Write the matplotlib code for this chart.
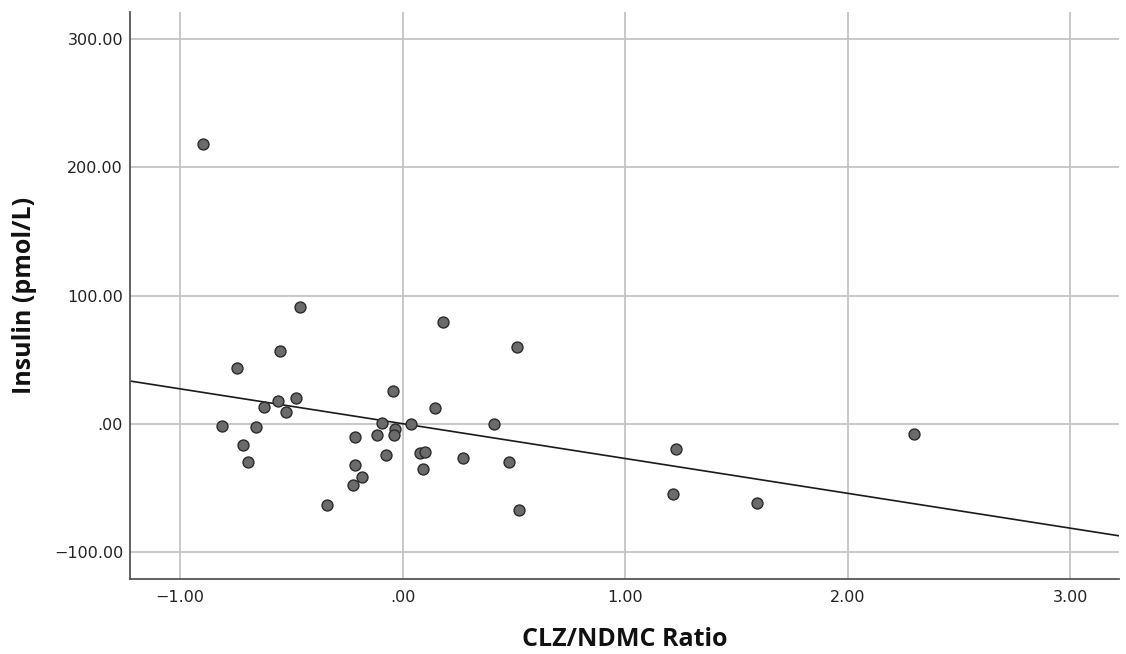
import numpy as np
import matplotlib
matplotlib.use("Agg")
import matplotlib.pyplot as plt
from matplotlib.ticker import FuncFormatter, FixedLocator

# Data
clz_ndmc_ratio = [-0.895, -0.460, -0.552, -0.745, -0.045, -0.480, -0.559, -0.621,
                  -0.523, -0.813, -0.659, -0.094, 0.040, -0.035, -0.039, -0.115,
                  -0.214, -0.716, -0.695, -0.076, -0.213, -0.184, -0.223, -0.339,
                  0.078, 0.099, 0.094, 0.184, 0.513, 0.144, 0.409, 0.271,
                  0.479, 0.525, 1.227, 1.214, 1.595, 2.299]
insulin = [217.9, 90.9, 57.0, 43.8, 25.8, 20.1, 17.7, 13.1,
           9.1, -1.8, -2.6, 0.8, 0.0, -3.9, -8.6, -8.8,
           -10.6, -16.8, -29.6, -24.4, -32.5, -41.4, -48.1, -63.3,
           -22.4, -21.9, -35.4, 79.4, 59.6, 12.4, -0.5, -26.8,
           -29.7, -67.0, -19.6, -55.0, -62.0, -8.1]
x_ticks = [-1.0, 0.0, 1.0, 2.0, 3.0]
y_ticks = [-100.0, 0.0, 100.0, 200.0, 300.0]
x_label = "CLZ/NDMC Ratio"
y_label = "Insulin (pmol/L)"

x = np.array(clz_ndmc_ratio)
y = np.array(insulin)

fig = plt.figure(figsize=(11.26, 6.54), dpi=100)
ax = fig.add_axes([130 / 1126, 1 - 579 / 654, (1119 - 130) / 1126, (579 - 12) / 654])

xlim = (-1.225, 3.22)
ylim = (-121.0, 321.0)
ax.set_xlim(*xlim)
ax.set_ylim(*ylim)

ax.xaxis.set_major_locator(FixedLocator(x_ticks))
ax.yaxis.set_major_locator(FixedLocator(y_ticks))


def fmt(v, pos):
    s = f"{abs(v):.2f}"
    if s.startswith("0."):
        s = s[1:]
    return ("\u2212" + s) if v < 0 else s


ax.xaxis.set_major_formatter(FuncFormatter(fmt))
ax.yaxis.set_major_formatter(FuncFormatter(fmt))

ax.grid(True, color="#c4c4c4", linewidth=1.3, zorder=0)
ax.set_axisbelow(True)

for side in ("top", "right"):
    ax.spines[side].set_visible(False)
for side in ("left", "bottom"):
    ax.spines[side].set_color("#555555")
    ax.spines[side].set_linewidth(1.3)

ax.tick_params(axis="both", length=0, labelsize=11.5, labelcolor="#222222")
ax.tick_params(axis="x", pad=8)
ax.tick_params(axis="y", pad=5)
for lab in ax.get_xticklabels() + ax.get_yticklabels():
    lab.set_family("DejaVu Sans")

# Linear fit line
slope, intercept = np.polyfit(x, y, 1)
xl = np.array(xlim)
ax.plot(xl, intercept + slope * xl, color="#1a1a1a", linewidth=1.2, zorder=2)

ax.scatter(x, y, s=62, facecolor="#6b6b6b", edgecolor="#2a2a2a", linewidth=1.0, zorder=3)

ax.set_xlabel(x_label, fontsize=18, fontweight="bold", family=["Open Sans", "DejaVu Sans"],
              labelpad=16, color="#111111")
ax.set_ylabel(y_label, fontsize=18, fontweight="bold", family=["Open Sans", "DejaVu Sans"],
              labelpad=12, color="#111111")

fig.savefig("out.png", dpi=100, facecolor="white")
